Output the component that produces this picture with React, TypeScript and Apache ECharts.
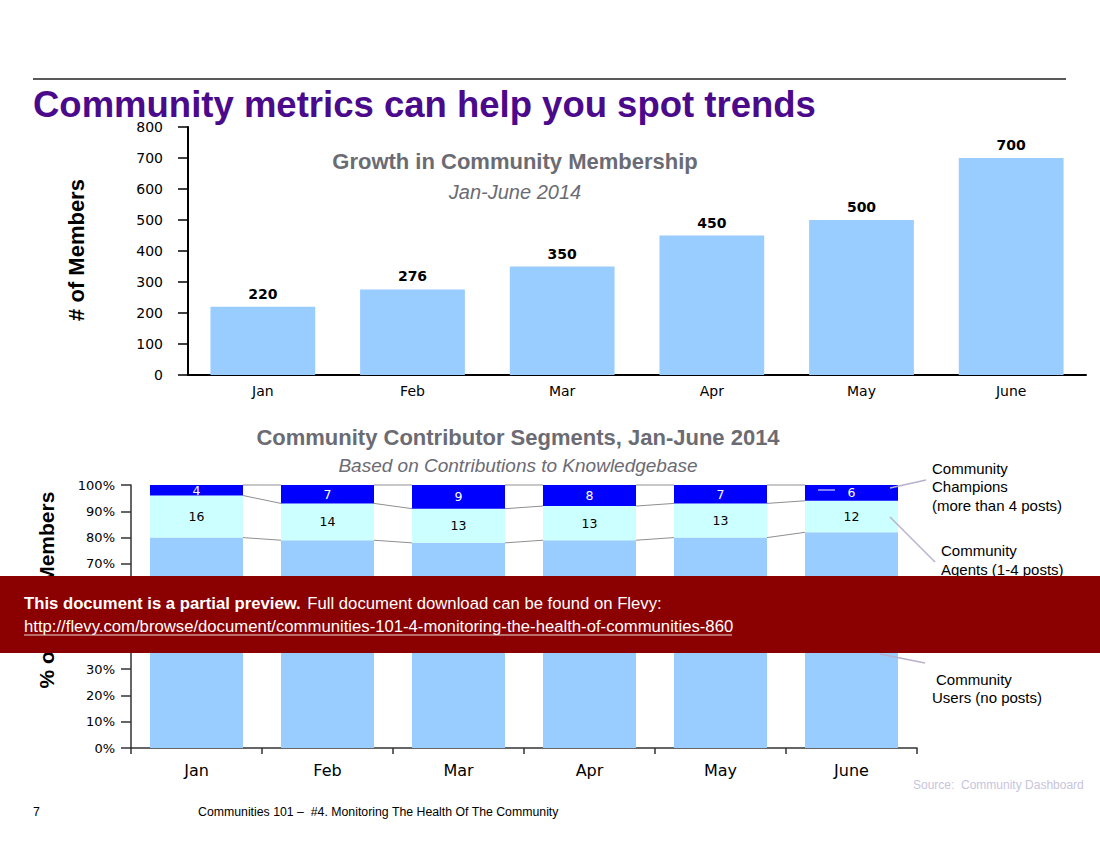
import React, { useEffect, useRef } from "react";
import * as echarts from "echarts";

const months = ["Jan", "Feb", "Mar", "Apr", "May", "June"];
const members = [220, 276, 350, 450, 500, 700];

const segMonths = ["Jan", "Feb", "Mar", "Apr", "May", "June"];
const users = [80, 79, 78, 79, 80, 82];
const agents = [16, 14, 13, 13, 13, 12];
const champions = [4, 7, 9, 8, 7, 6];

const TITLE = "Community metrics can help you spot trends";
const topTitle = "Growth in Community Membership";
const topSub = "Jan-June 2014";
const botTitle = "Community Contributor Segments, Jan-June 2014";
const botSub = "Based on Contributions to Knowledgebase";

const WIDE = "'DejaVu Sans', Verdana, sans-serif";
const ARIAL = "'Liberation Sans', Arial, sans-serif";
const GRAY = "#6b6b73";
const BAR_RATIO_BOT = 0.71;

export default function App() {
  const ref = useRef<HTMLDivElement>(null);
  useEffect(() => {
    document.body.style.margin = "0";
    const chart = echarts.init(ref.current!, null, { renderer: "svg" });

    // series-line data: [i, level_i, level_{i+1}]
    const lvl1 = users;
    const lvl2 = users.map((u, i) => u + agents[i]);
    const lvl3 = users.map((u, i) => u + agents[i] + champions[i]);
    const connData: number[][] = [];
    for (let i = 0; i < segMonths.length - 1; i++) {
      connData.push([i, lvl1[i], lvl1[i + 1]]);
      connData.push([i, lvl2[i], lvl2[i + 1]]);
      connData.push([i, lvl3[i], lvl3[i + 1]]);
    }

    const leader = "#b8b0cc";
    const option: any = {
      animation: false,
      backgroundColor: "#ffffff",
      grid: [
        { left: 188, top: 127, width: 898, height: 248 },
        { left: 131, top: 485, width: 786, height: 263 },
      ],
      xAxis: [
        {
          type: "category",
          gridIndex: 0,
          data: months,
          axisLine: { lineStyle: { color: "#000", width: 2 } },
          axisTick: { show: false },
          axisLabel: { color: "#000", fontFamily: WIDE, fontSize: 14, margin: 9 },
        },
        {
          type: "category",
          gridIndex: 1,
          data: segMonths,
          axisLine: { lineStyle: { color: "#333", width: 1.5 } },
          axisTick: { show: true, length: 6, lineStyle: { color: "#333", width: 1.5 } },
          axisLabel: { color: "#000", fontFamily: WIDE, fontSize: 16, margin: 14 },
        },
      ],
      yAxis: [
        {
          type: "value",
          gridIndex: 0,
          min: 0,
          max: 800,
          interval: 100,
          splitLine: { show: false },
          axisLine: { show: true, lineStyle: { color: "#000", width: 2 } },
          axisTick: { show: true, length: 10, lineStyle: { color: "#000", width: 1.5 } },
          axisLabel: { color: "#000", fontFamily: WIDE, fontSize: 14, margin: 25 },
        },
        {
          type: "value",
          gridIndex: 1,
          min: 0,
          max: 100,
          interval: 10,
          splitLine: { show: false },
          axisLine: { show: true, lineStyle: { color: "#333", width: 1.5 } },
          axisTick: { show: true, length: 10, lineStyle: { color: "#333", width: 1.5 } },
          axisLabel: { color: "#000", fontFamily: WIDE, fontSize: 13, margin: 16, formatter: "{value}%" },
        },
      ],
      series: [
        {
          type: "bar",
          xAxisIndex: 0,
          yAxisIndex: 0,
          data: members,
          barCategoryGap: "30%",
          itemStyle: { color: "#99ccff" },
          label: {
            show: true,
            position: "top",
            distance: 6,
            color: "#000",
            fontFamily: WIDE,
            fontWeight: "bold",
            fontSize: 14,
          },
        },
        {
          name: "Users",
          type: "bar",
          xAxisIndex: 1,
          yAxisIndex: 1,
          stack: "seg",
          data: users,
          barCategoryGap: "29%",
          itemStyle: { color: "#99ccff" },
          label: { show: false },
        },
        {
          name: "Agents",
          type: "bar",
          xAxisIndex: 1,
          yAxisIndex: 1,
          stack: "seg",
          data: agents,
          itemStyle: { color: "#ccffff" },
          label: { show: true, position: "inside", color: "#000", fontFamily: WIDE, fontSize: 12.5 },
        },
        {
          name: "Champions",
          type: "bar",
          xAxisIndex: 1,
          yAxisIndex: 1,
          stack: "seg",
          data: champions,
          itemStyle: { color: "#0000ff" },
          label: { show: true, position: "inside", color: "#fff", fontFamily: WIDE, fontSize: 12.5 },
        },
        {
          type: "custom",
          xAxisIndex: 1,
          yAxisIndex: 1,
          data: connData,
          z: 5,
          silent: true,
          renderItem: (params: any, api: any) => {
            const i = api.value(0);
            const a = api.value(1);
            const b = api.value(2);
            const p0 = api.coord([i, a]);
            const p1 = api.coord([i + 1, b]);
            const band = api.size([1, 0])[0];
            const half = (band * BAR_RATIO_BOT) / 2;
            return {
              type: "line",
              shape: { x1: p0[0] + half, y1: p0[1], x2: p1[0] - half, y2: p1[1] },
              style: { stroke: "#8f8f8f", lineWidth: 1 },
            };
          },
        },
      ],
      graphic: [
        { type: "line", shape: { x1: 33, y1: 79, x2: 1066, y2: 79 }, style: { stroke: "#222", lineWidth: 1.5 } },
        {
          type: "text",
          x: 33,
          y: 104,
          style: { text: TITLE, fill: "#4b0a8c", font: `bold 36.5px ${ARIAL}`, textVerticalAlign: "middle" },
        },
        {
          type: "text",
          x: 515,
          y: 161,
          style: { text: topTitle, fill: GRAY, font: `bold 22px ${ARIAL}`, textAlign: "center", textVerticalAlign: "middle" },
        },
        {
          type: "text",
          x: 515,
          y: 192,
          style: { text: topSub, fill: GRAY, font: `italic 20px ${ARIAL}`, textAlign: "center", textVerticalAlign: "middle" },
        },
        {
          type: "text",
          x: 76,
          y: 250,
          rotation: Math.PI / 2,
          style: { text: "# of Members", fill: "#000", font: `bold 22px ${ARIAL}`, textAlign: "center", textVerticalAlign: "middle" },
        },
        {
          type: "text",
          x: 518,
          y: 437,
          style: { text: botTitle, fill: GRAY, font: `bold 22px ${ARIAL}`, textAlign: "center", textVerticalAlign: "middle" },
        },
        {
          type: "text",
          x: 518,
          y: 465,
          style: { text: botSub, fill: GRAY, font: `italic 19px ${ARIAL}`, textAlign: "center", textVerticalAlign: "middle" },
        },
        {
          type: "text",
          x: 46,
          y: 590,
          rotation: Math.PI / 2,
          style: { text: "% of Total Members", fill: "#000", font: `bold 21px ${ARIAL}`, textAlign: "center", textVerticalAlign: "middle" },
        },
        // annotations
        { type: "line", z: 20, shape: { x1: 890, y1: 488, x2: 926, y2: 480 }, style: { stroke: leader, lineWidth: 1.5 } },
        { type: "line", z: 20, shape: { x1: 818, y1: 490, x2: 835, y2: 490 }, style: { stroke: "#fff", lineWidth: 1 } },
        { type: "line", z: 20, shape: { x1: 890, y1: 517, x2: 935, y2: 562 }, style: { stroke: leader, lineWidth: 1.5 } },
        { type: "line", z: 20, shape: { x1: 880, y1: 654, x2: 925, y2: 663 }, style: { stroke: leader, lineWidth: 1.5 } },
        {
          type: "text",
          x: 932,
          y: 459,
          style: { text: "Community\nChampions\n(more than 4 posts)", fill: "#000", font: `15px ${ARIAL}`, lineHeight: 18.5, textVerticalAlign: "top" },
        },
        {
          type: "text",
          x: 941,
          y: 540.5,
          style: { text: "Community\nAgents (1-4 posts)", fill: "#000", font: `15px ${ARIAL}`, lineHeight: 19.5, textVerticalAlign: "top" },
        },
        {
          type: "text",
          x: 936,
          y: 679,
          style: { text: "Community", fill: "#000", font: `15px ${ARIAL}`, textVerticalAlign: "middle" },
        },
        {
          type: "text",
          x: 932,
          y: 697,
          style: { text: "Users (no posts)", fill: "#000", font: `15px ${ARIAL}`, textVerticalAlign: "middle" },
        },
        // footer
        {
          type: "text",
          x: 913,
          y: 785,
          style: { text: "Source:  Community Dashboard", fill: "#c8c4dc", font: `12px ${ARIAL}`, textVerticalAlign: "middle" },
        },
        { type: "text", x: 33, y: 812, style: { text: "7", fill: "#000", font: `12.3px ${ARIAL}`, textVerticalAlign: "middle" } },
        {
          type: "text",
          x: 198,
          y: 812,
          style: {
            text: "Communities 101 \u2013  #4. Monitoring The Health Of The Community",
            fill: "#000",
            font: `12.3px ${ARIAL}`,
            textVerticalAlign: "middle",
          },
        },
        // overlay
        { type: "rect", z: 100, shape: { x: 0, y: 576, width: 1100, height: 77 }, style: { fill: "#8b0000" } },
        {
          type: "text",
          z: 101,
          x: 24,
          y: 603,
          style: {
            text: "{b|This document is a partial preview.}  {n|Full document download can be found on Flevy:}",
            textVerticalAlign: "middle",
            rich: {
              b: { fill: "#fff", font: `bold 16.7px ${ARIAL}` },
              n: { fill: "#fff", font: `16.7px ${ARIAL}` },
            },
          },
        },
        {
          type: "text",
          z: 101,
          x: 24,
          y: 626,
          style: {
            text: "http://flevy.com/browse/document/communities-101-4-monitoring-the-health-of-communities-860",
            fill: "#fff",
            font: `16.7px ${ARIAL}`,
            textVerticalAlign: "middle",
          },
        },
        { type: "line", z: 101, shape: { x1: 24, y1: 635, x2: 732, y2: 635 }, style: { stroke: "#e8d8d8", lineWidth: 1 } },
      ],
    };
    chart.setOption(option);
    return () => chart.dispose();
  }, []);
  return <div ref={ref} style={{ position: "absolute", left: 0, top: 0, width: 1100, height: 850 }} />;
}
